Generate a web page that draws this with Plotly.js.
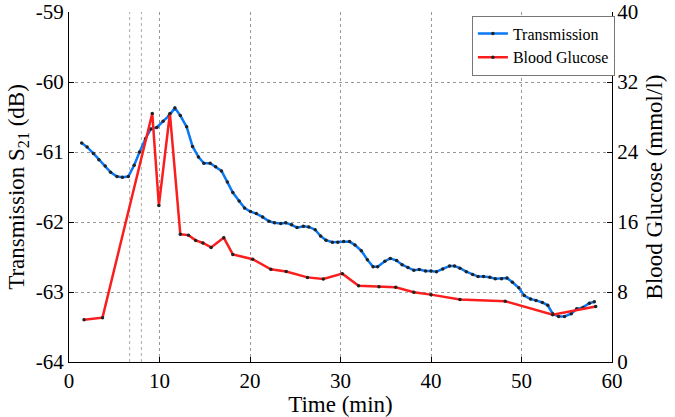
<!DOCTYPE html>
<html>
<head>
<meta charset="utf-8">
<script src="https://cdn.plot.ly/plotly-3.0.1.min.js"></script>
<style>html,body{margin:0;padding:0;background:#fff}#chart{width:675px;height:417px}</style>
</head>
<body>
<div id="chart"></div>
<script>
// Transmission S21 (dB) vs time (min)
const transTime = [1.4,2.0,2.7,3.3,4.0,4.6,5.3,5.9,6.55,7.2,7.8,8.45,9.05,9.7,10.4,11.07,11.7,12.3,13.0,13.65,14.3,14.9,15.6,16.2,16.85,17.5,18.1,18.8,19.4,20.05,20.7,21.4,22.1,22.7,23.4,23.95,24.6,25.2,25.9,26.5,27.2,27.8,28.4,29.1,29.7,30.35,31.0,31.6,32.3,32.97,33.6,34.1,34.9,35.5,36.2,36.8,37.45,38.1,38.7,39.4,40.0,40.6,41.3,42.05,42.6,43.2,43.9,44.6,45.2,45.8,46.5,47.1,47.8,48.4,49.0,49.7,50.3,51.0,51.6,52.3,52.9,53.45,54.1,54.75,55.5,56.1,56.8,57.5,58.05];
const transValues = [-60.87,-60.93,-61.02,-61.11,-61.20,-61.29,-61.35,-61.36,-61.35,-61.19,-61.00,-60.81,-60.67,-60.65,-60.56,-60.48,-60.37,-60.48,-60.64,-60.92,-61.07,-61.16,-61.16,-61.21,-61.27,-61.43,-61.58,-61.70,-61.80,-61.85,-61.88,-61.93,-61.99,-62.01,-62.02,-62.01,-62.04,-62.08,-62.06,-62.07,-62.11,-62.20,-62.26,-62.29,-62.29,-62.28,-62.28,-62.33,-62.41,-62.54,-62.64,-62.64,-62.56,-62.52,-62.55,-62.61,-62.65,-62.69,-62.68,-62.70,-62.70,-62.71,-62.67,-62.63,-62.63,-62.66,-62.71,-62.75,-62.78,-62.78,-62.79,-62.81,-62.81,-62.80,-62.86,-62.94,-63.05,-63.10,-63.12,-63.15,-63.19,-63.31,-63.35,-63.35,-63.31,-63.24,-63.22,-63.16,-63.14];
// Blood glucose (mmol/l) vs time (min)
const bgTime = [1.66,3.7,9.2,9.93,11.15,12.3,13.2,14.0,14.8,15.7,17.1,18.1,20.3,22.3,24.0,26.35,28.1,30.2,32.0,34.25,36.1,38.1,40.0,43.2,48.2,53.45,58.2];
const bgValues = [4.84,5.07,28.4,17.9,28.4,14.6,14.5,13.9,13.6,13.1,14.2,12.3,11.75,10.6,10.35,9.67,9.48,10.1,8.72,8.6,8.54,7.97,7.7,7.14,6.95,5.4,6.35];
// Extra reference times (dotted vertical lines)
const markerTimes = [6.7, 8.0];
const xTicks = [0,10,20,30,40,50,60];
const yTicks = [-64,-63,-62,-61,-60,-59];
const yTickText = ['-64','-63','-62','-61','-60','-59'];
const y2Ticks = [0,8,16,24,32,40];

const font = "'Liberation Serif', 'Times New Roman', serif";
const tickFont = {family: font, size: 21, color: '#000'};
const titleFont = {family: font, size: 23, color: '#000'};
const traces = [
  {x: transTime, y: transValues, name: 'Transmission', type: 'scatter', mode: 'lines+markers',
   line: {color: 'rgb(10,120,245)', width: 2.5}, marker: {color: '#222', size: 3.5}},
  {x: bgTime, y: bgValues, name: 'Blood Glucose', type: 'scatter', mode: 'lines+markers', yaxis: 'y2',
   line: {color: 'rgb(250,30,30)', width: 2.5}, marker: {color: '#222', size: 3.5}}
];
const shapes = markerTimes.map(t => ({type: 'line', xref: 'x', yref: 'paper', x0: t, x1: t, y0: 0, y1: 1,
  line: {color: '#aaa', width: 1, dash: 'dot'}, layer: 'below'}));

const layout = {
  width: 675, height: 417,
  margin: {l: 69, r: 63, t: 12, b: 55},
  paper_bgcolor: '#fff', plot_bgcolor: '#fff',
  font: {family: font, size: 17, color: '#000'},
  showlegend: true,
  legend: {x: 0.742, y: 0.99, xanchor: 'left', yanchor: 'top', bgcolor: '#fff', bordercolor: '#777', borderwidth: 1,
    font: {family: font, size: 16}, tracegroupgap: 0, itemwidth: 30},
  xaxis: {range: [0, 60], tickvals: xTicks, ticks: 'inside', ticklen: 5, tickcolor: '#000', tickfont: tickFont,
    ticklabeloverflow: 'allow', showline: true, linecolor: '#000', linewidth: 1, zeroline: false,
    showgrid: true, gridcolor: '#999', griddash: 'dot', gridwidth: 1,
    title: {text: 'Time (min)', font: titleFont, standoff: 0}},
  yaxis: {range: [-64, -59], tickvals: yTicks, ticktext: yTickText, ticks: 'inside', ticklen: 5, tickcolor: '#000', tickfont: tickFont,
    ticklabeloverflow: 'allow', showline: true, linecolor: '#000', linewidth: 1, zeroline: false,
    showgrid: true, gridcolor: '#999', griddash: 'dot', gridwidth: 1,
    title: {text: 'Transmission S<sub>21</sub> (dB)', font: titleFont, standoff: 4}},
  yaxis2: {range: [0, 40], tickvals: y2Ticks, overlaying: 'y', side: 'right', ticks: 'inside', ticklen: 5, tickcolor: '#000', tickfont: tickFont,
    ticklabeloverflow: 'allow', showline: true, linecolor: '#000', linewidth: 1, zeroline: false, showgrid: false,
    title: {text: 'Blood Glucose (mmol/l)', font: titleFont, standoff: 8}},
  shapes: shapes
};
Plotly.newPlot('chart', traces, layout, {displayModeBar: false, staticPlot: true});
</script>
</body>
</html>
